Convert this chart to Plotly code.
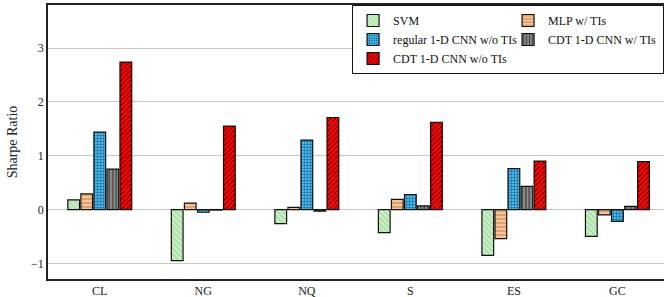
import plotly.graph_objects as go

categories = ["CL", "NG", "NQ", "S", "ES", "GC"]
series_names = ["SVM", "MLP w/ TIs", "regular 1-D CNN w/o TIs", "CDT 1-D CNN w/ TIs", "CDT 1-D CNN w/o TIs"]
svm = [0.18, -0.95, -0.26, -0.43, -0.85, -0.50]
mlp = [0.29, 0.12, 0.04, 0.19, -0.54, -0.10]
reg_cnn = [1.44, -0.05, 1.29, 0.28, 0.76, -0.22]
cdt_ti = [0.75, -0.01, -0.03, 0.07, 0.43, 0.06]
cdt_noti = [2.74, 1.55, 1.71, 1.62, 0.90, 0.89]
y_ticks = [-1, 0, 1, 2, 3]
y_tick_labels = ["\u22121", "0", "1", "2", "3"]

values = [svm, mlp, reg_cnn, cdt_ti, cdt_noti]
styles = [
    dict(bg="#c8f0c4", fg="#9ad098", shape="\\", size=4, solidity=0.25),
    dict(bg="#f8c494", fg="#c88a58", shape="-", size=4, solidity=0.3),
    dict(bg="#40b8ec", fg="#1c3c64", shape="+", size=3, solidity=0.25),
    dict(bg="#8c8c8c", fg="#303030", shape="|", size=3.5, solidity=0.3),
    dict(bg="#ff0000", fg="#000000", shape="/", size=3.5, solidity=0.25),
]

x = list(range(len(categories)))
fig = go.Figure()
for name, vals, st in zip(series_names, values, styles):
    fig.add_trace(go.Bar(
        x=x, y=vals, name=name,
        marker=dict(
            color=st["bg"],
            line=dict(color="#111111", width=1.2),
            pattern=dict(shape=st["shape"], fgcolor=st["fg"], bgcolor=st["bg"],
                         size=st["size"], solidity=st["solidity"], fillmode="replace"),
        ),
    ))

fig.update_layout(
    width=664, height=297,
    margin=dict(l=48, r=0, t=5, b=18, autoexpand=False),
    paper_bgcolor="white", plot_bgcolor="white",
    barmode="group", bargap=0.37, bargroupgap=0.1,
    font=dict(family="Liberation Serif, DejaVu Serif, serif", size=12, color="#222222"),
    showlegend=True,
    legend=dict(
        x=1.0001, y=1, xanchor="right", yanchor="top",
        orientation="h", entrywidth=110, entrywidthmode="pixels",
        bordercolor="#111111", borderwidth=1, bgcolor="white",
        font=dict(family="Liberation Serif, DejaVu Serif, serif", size=12, color="#111111"),
        tracegroupgap=0, itemwidth=30,
    ),
)
fig.update_xaxes(
    range=[-0.5, 5.45], tickvals=x, ticktext=categories,
    showline=True, linecolor="#222222", linewidth=1.5, mirror=True,
    showgrid=False, ticks="", zeroline=False,
)
fig.update_yaxes(
    range=[-1.29, 3.8], tickvals=y_ticks, ticktext=y_tick_labels,
    title=dict(text="Sharpe Ratio", standoff=10),
    showline=True, linecolor="#222222", linewidth=1.5, mirror=True,
    showgrid=True, gridcolor="#c8c8c8", gridwidth=1,
    zeroline=True, zerolinecolor="#c8c8c8", zerolinewidth=1,
    ticks="", ticklen=4,
)

fig.write_html("out.html", config={"displayModeBar": False})

with open("out.html", "r", encoding="utf-8") as f:
    html = f.read()
html = html.replace("<body>", '<body style="margin:0;padding:0;">', 1)
with open("out.html", "w", encoding="utf-8") as f:
    f.write(html)
